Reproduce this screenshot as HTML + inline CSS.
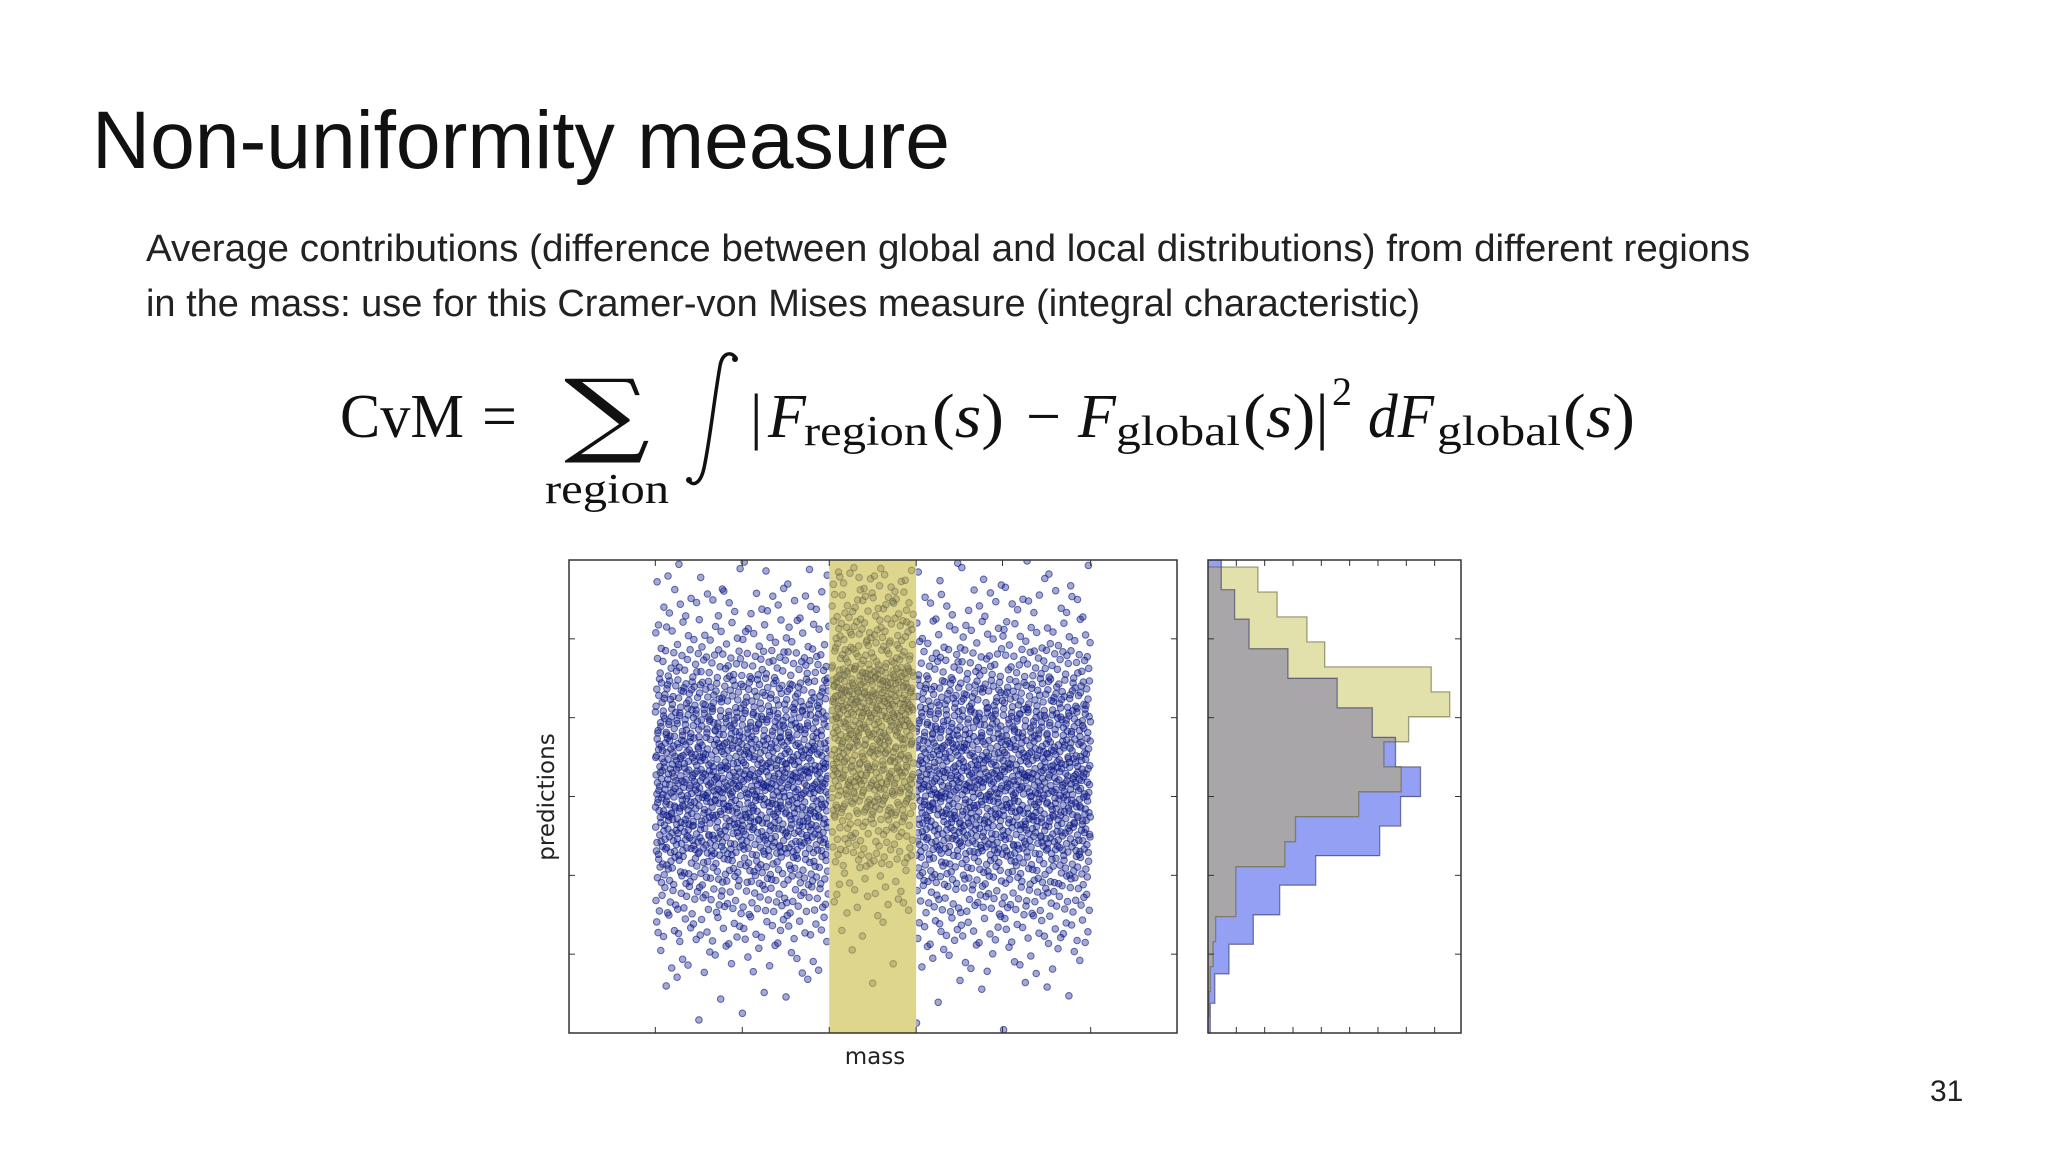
<!DOCTYPE html>
<html><head><meta charset="utf-8"><style>
html,body{margin:0;padding:0;background:#fff;}
svg{display:block;}
</style></head><body>
<svg id="slide" width="2048" height="1152" viewBox="0 0 2048 1152" xmlns="http://www.w3.org/2000/svg">
<rect width="2048" height="1152" fill="#fff"/>
<text x="92" y="168" font-family="Liberation Sans, sans-serif" font-size="82" fill="#111" textLength="858" lengthAdjust="spacingAndGlyphs">Non-uniformity measure</text>
<text x="146" y="261" font-family="Liberation Sans, sans-serif" font-size="38" fill="#222" textLength="1604" lengthAdjust="spacingAndGlyphs">Average contributions (difference between global and local distributions) from different regions</text>
<text x="146" y="316" font-family="Liberation Sans, sans-serif" font-size="38" fill="#222" textLength="1274" lengthAdjust="spacingAndGlyphs">in the mass: use for this Cramer-von Mises measure (integral characteristic)</text>
<g font-family="Liberation Serif, DejaVu Serif, serif" fill="#111">
<text x="340" y="437" font-size="62" textLength="124" lengthAdjust="spacingAndGlyphs">CvM</text>
<text x="482" y="437" font-size="62">=</text>
<text x="564" y="445" font-size="92" font-family="DejaVu Serif, serif" textLength="86" lengthAdjust="spacingAndGlyphs">∑</text>
<text x="545" y="503" font-size="42" textLength="124" lengthAdjust="spacingAndGlyphs">region</text>
<path d="M736,358 C730,350 722,354 720,366 C714,400 710,440 704,468 C701,482 694,488 688,480" fill="none" stroke="#111" stroke-width="3.5" stroke-linecap="round"/>
<circle cx="735" cy="359" r="3" fill="#111"/><circle cx="689" cy="480" r="3" fill="#111"/>
<text x="750" y="437" font-size="62">|</text>
<text x="768" y="437" font-size="62" font-style="italic">F</text>
<text x="804" y="445" font-size="42" textLength="124" lengthAdjust="spacingAndGlyphs">region</text>
<text x="932" y="437" font-size="62" textLength="72" lengthAdjust="spacingAndGlyphs">(<tspan font-style="italic">s</tspan>)</text>
<text x="1026" y="437" font-size="62">−</text>
<text x="1078" y="437" font-size="62" font-style="italic">F</text>
<text x="1116" y="445" font-size="42" textLength="124" lengthAdjust="spacingAndGlyphs">global</text>
<text x="1243" y="437" font-size="62" textLength="86" lengthAdjust="spacingAndGlyphs">(<tspan font-style="italic">s</tspan>)|</text>
<text x="1332" y="405" font-size="40">2</text>
<text x="1368" y="437" font-size="62" font-style="italic" textLength="66" lengthAdjust="spacingAndGlyphs">dF</text>
<text x="1437" y="445" font-size="42" textLength="124" lengthAdjust="spacingAndGlyphs">global</text>
<text x="1563" y="437" font-size="62" textLength="72" lengthAdjust="spacingAndGlyphs">(<tspan font-style="italic">s</tspan>)</text>
</g>
<g id="scatter"></g>
<g id="hist"></g>
<text x="875" y="1064" text-anchor="middle" font-family="DejaVu Sans, sans-serif" font-size="23" fill="#222">mass</text>
<text transform="translate(554,797) rotate(-90)" text-anchor="middle" font-family="DejaVu Sans, sans-serif" font-size="23" fill="#222">predictions</text>
<text x="1930" y="1101" font-family="Liberation Sans, sans-serif" font-size="30" fill="#222">31</text>
</svg>
<script>
// ---- data ----
const blueBinStart = 0;
const blueBinWidth = 0.0625;
const blueCounts = [0.08,0.24,0.74,1.6,2.53,3.8,6.06,6.8,7.5,6.62,5.8,4.56,2.82,1.45,0.94,0.47]; // bottom to top
const yellowBinStart = -0.018;
const yellowBinWidth = 0.0528;
const yellowCounts = [0,0.04,0.08,0.18,0.27,0.98,0.98,2.71,3.09,5.32,6.82,6.21,7.08,8.53,7.88,4.12,3.49,2.44,1.76]; // bottom to top
const massRange = [0.142, 0.858];
const regionRange = [0.428, 0.571];
const yTicks = [1/6, 2/6, 3/6, 4/6, 5/6];
const massTicks = [0.142, 0.285, 0.428, 0.571, 0.713, 0.858];
const countTicks = [1,2,3,4,5,6,7,8];

const NS = 'http://www.w3.org/2000/svg';
function mk(tag, attrs, parent){const e=document.createElementNS(NS,tag);for(const k in attrs)e.setAttribute(k,attrs[k]);parent.appendChild(e);return e;}
const SX0=569,SX1=1177,PY0=560,PY1=1033;
const sx = m => SX0 + m*(SX1-SX0);
const py = v => PY1 - v*(PY1-PY0);
const HX0=1208,HX1=1461,HPX=28.33;
const hx = c => HX0 + c*HPX;

function halton(i,b){let f=1,r=0;while(i>0){f/=b;r+=f*(i%b);i=Math.floor(i/b);}return r;}

const sc=document.getElementById('scatter');
const defs=mk('defs',{},sc);
const cp=mk('clipPath',{id:'sclip'},defs);
mk('rect',{x:SX0,y:PY0,width:SX1-SX0,height:PY1-PY0},cp);
const pts=mk('g',{'clip-path':'url(#sclip)'},sc);


let idx=1;
const outW=(massRange[1]-massRange[0])-(regionRange[1]-regionRange[0]);
blueCounts.forEach((c,i)=>{
  const n=Math.round(c*52);
  for(let k=0;k<n;k++){
    let u=halton(idx,2)*outW, v=halton(idx,3); idx++;
    let m=massRange[0]+u; if(m>regionRange[0]) m+= (regionRange[1]-regionRange[0]);
    const val=blueBinStart+(i+v)*blueBinWidth;
    const p=mk('circle',{cx:sx(m).toFixed(1),cy:py(val).toFixed(1),r:3.3,fill:'rgba(25,40,150,0.4)',stroke:'rgba(10,20,120,0.6)','stroke-width':1},pts);
    
    
  }
});
const band=mk('rect',{x:sx(regionRange[0]),y:PY0,width:sx(regionRange[1])-sx(regionRange[0]),height:PY1-PY0,fill:'rgb(222,214,140)'},sc);


const rp=mk('g',{'clip-path':'url(#sclip)'},sc);


let jdx=1;
yellowCounts.forEach((c,i)=>{
  const n=Math.round(c*11);
  for(let k=0;k<n;k++){
    const u=halton(jdx,2), v=halton(jdx,3); jdx++;
    const m=regionRange[0]+0.004+u*(regionRange[1]-regionRange[0]-0.008);
    const val=yellowBinStart+(i+v)*yellowBinWidth;
    const p=mk('circle',{cx:sx(m).toFixed(1),cy:py(val).toFixed(1),r:3.3,fill:'rgba(120,115,80,0.3)',stroke:'rgba(90,88,65,0.45)','stroke-width':1},rp);
    
    
  }
});
const sframe=mk('rect',{x:SX0,y:PY0,width:SX1-SX0,height:PY1-PY0,fill:'none',stroke:'#333','stroke-width':1.5},sc);


yTicks.forEach(t=>{mk('line',{x1:SX0,x2:SX0+6,y1:py(t),y2:py(t),stroke:'#333'},sc);mk('line',{x1:SX1-6,x2:SX1,y1:py(t),y2:py(t),stroke:'#333'},sc);});
massTicks.forEach(t=>{mk('line',{x1:sx(t),x2:sx(t),y1:PY0,y2:PY0+6,stroke:'#333'},sc);mk('line',{x1:sx(t),x2:sx(t),y1:PY1-6,y2:PY1,stroke:'#333'},sc);});

const hg=document.getElementById('hist');
function valAt(counts,start,w,v){const i=Math.floor((v-start)/w);return (i>=0&&i<counts.length)?counts[i]:0;}
const rows=mk('g',{},hg);


for(let y=PY0;y<PY1;y++){
  const v=(PY1-(y+0.5))/(PY1-PY0);
  const b=valAt(blueCounts,blueBinStart,blueBinWidth,v), yl=valAt(yellowCounts,yellowBinStart,yellowBinWidth,v);
  const lo=Math.min(b,yl), hi=Math.max(b,yl);
  if(lo>0) mk('rect',{x:HX0,y:y,width:hx(lo)-HX0,height:1.05,fill:'#a8a6a9'},rows);
  if(hi>lo) mk('rect',{x:hx(lo),y:y,width:hx(hi)-hx(lo),height:1.05,fill:b>yl?'#94a0f4':'#e2e0ab'},rows);
}
function stepPath(counts,start,w){let d='M'+HX0+','+py(Math.max(0,Math.min(1,start)));counts.forEach((c,i)=>{const a=Math.max(0,Math.min(1,start+i*w)),b2=Math.max(0,Math.min(1,start+(i+1)*w));d+=' L'+hx(c).toFixed(1)+','+py(a).toFixed(1)+' L'+hx(c).toFixed(1)+','+py(b2).toFixed(1);});d+=' L'+HX0+','+py(Math.min(1,start+counts.length*w));return d;}
const bo=mk('path',{d:stepPath(blueCounts,blueBinStart,blueBinWidth),fill:'none',stroke:'rgba(40,40,90,0.55)','stroke-width':1.3},hg);


const yo=mk('path',{d:stepPath(yellowCounts,yellowBinStart,yellowBinWidth),fill:'none',stroke:'rgba(90,90,40,0.55)','stroke-width':1.3},hg);


const hframe=mk('rect',{x:HX0,y:PY0,width:HX1-HX0,height:PY1-PY0,fill:'none',stroke:'#333','stroke-width':1.5},hg);


yTicks.forEach(t=>{mk('line',{x1:HX0,x2:HX0+6,y1:py(t),y2:py(t),stroke:'#333'},hg);mk('line',{x1:HX1-6,x2:HX1,y1:py(t),y2:py(t),stroke:'#333'},hg);});
countTicks.forEach(t=>{mk('line',{x1:hx(t),x2:hx(t),y1:PY0,y2:PY0+6,stroke:'#333'},hg);mk('line',{x1:hx(t),x2:hx(t),y1:PY1-6,y2:PY1,stroke:'#333'},hg);});
</script>
</body></html>
